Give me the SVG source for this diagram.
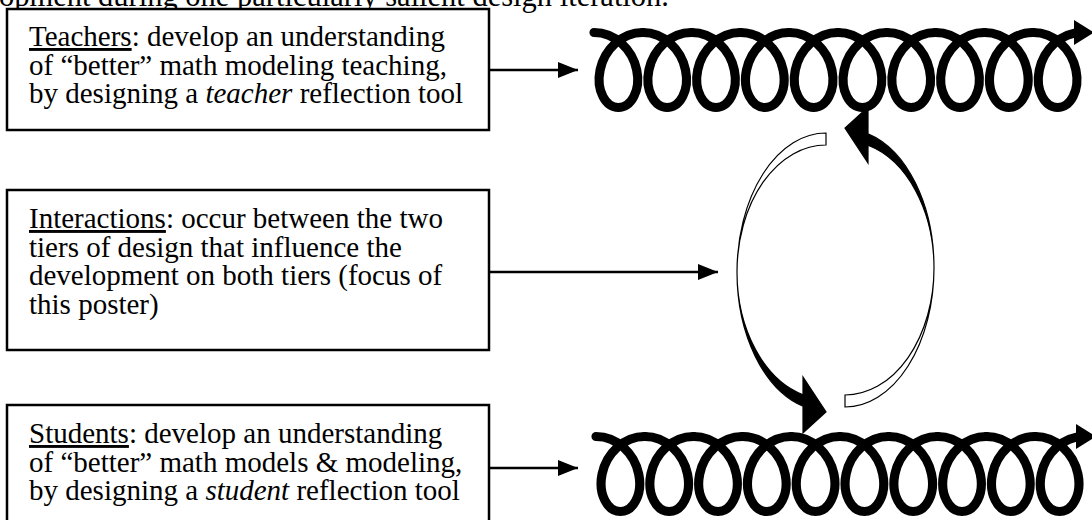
<svg xmlns="http://www.w3.org/2000/svg" xmlns:xlink="http://www.w3.org/1999/xlink" width="1092" height="520" viewBox="0 0 1092 520">
<style>
.box{fill:#fff;stroke:#000;stroke-width:2.5}
.t{font-family:"Liberation Serif","Times New Roman",serif;font-size:29px;fill:#000}
.u{text-decoration:underline}
.i{font-style:italic}
.ln{stroke:#000;stroke-width:2.5;fill:none}
.coil{fill:none;stroke:#000;stroke-width:9;stroke-linecap:round;stroke-linejoin:round}
.hol{fill:#fff;stroke:#000;stroke-width:1.2}
.sol{fill:#000;stroke:#000;stroke-width:1.2;stroke-linejoin:miter}
</style>
<defs>
<marker id="ah" viewBox="0 0 20 16" refX="20" refY="8" markerWidth="20" markerHeight="16" markerUnits="userSpaceOnUse" orient="auto">
<path d="M0,0 L20,8 L0,16 Z" fill="#000"/>
</marker>
<path id="per" d="M-24,-37.5 C-14.15,-37.5 -4.34,-33.46 3.21,-26.52 C10.76,-19.58 16,-9.82 18,0 C20,9.82 18.76,19.58 15.21,26.52 C11.66,33.46 5.850,37.5 0,37.5 C-5.85,37.5 -11.66,33.46 -15.21,26.52 C-18.76,19.58 -20,9.82 -18,0 C-16,-9.82 -10.76,-19.58 -3.21,-26.52 C4.34,-33.46 14.15,-37.5 24,-37.5"/>
<g id="coil">
<use xlink:href="#per" href="#per" x="24"/>
<use xlink:href="#per" href="#per" x="72"/>
<use xlink:href="#per" href="#per" x="120"/>
<use xlink:href="#per" href="#per" x="168"/>
<use xlink:href="#per" href="#per" x="216"/>
<use xlink:href="#per" href="#per" x="264"/>
<use xlink:href="#per" href="#per" x="312"/>
<use xlink:href="#per" href="#per" x="360"/>
<use xlink:href="#per" href="#per" x="408"/>
<use xlink:href="#per" href="#per" x="456"/>
</g>
<g id="curv">
<path class="hol" d="M826,133 A89,139 0 0,0 737,272 A89,127 0 0,1 826,145 Z"/>
<path class="sol" d="M737,272 A89,139 0 0,0 803,406.3 L803,433 L826,412 L803,377 L803,394.7 A89,127 0 0,1 737,272 Z"/>
</g>
</defs>
<rect width="1092" height="520" fill="#fff"/>

<g id="caption">
<text class="t" x="-1" y="6" style="font-size:30.5px">opment during one particularly salient design iteration.</text>
</g>

<g id="teachers">
<rect class="box" x="7" y="9" width="482" height="121"/>
<text class="t"><tspan x="29" y="46"><tspan class="u">Teachers</tspan>: develop an understanding</tspan><tspan x="29" y="74.5">of “better” math modeling teaching,</tspan><tspan x="29" y="103">by designing a <tspan class="i">teacher</tspan> reflection tool</tspan></text>
</g>

<g id="interactions">
<rect class="box" x="7" y="190" width="482" height="160"/>
<text class="t"><tspan x="29" y="228"><tspan class="u">Interactions</tspan>: occur between the two</tspan><tspan x="29" y="256.5">tiers of design that influence the</tspan><tspan x="29" y="285">development on both tiers (focus of</tspan><tspan x="29" y="313.5">this poster)</tspan></text>
</g>

<g id="students">
<rect class="box" x="7" y="405" width="482" height="126"/>
<text class="t"><tspan x="29" y="443"><tspan class="u">Students</tspan>: develop an understanding</tspan><tspan x="29" y="471.5">of “better” math models &amp; modeling,</tspan><tspan x="29" y="500">by designing a <tspan class="i">student</tspan> reflection tool</tspan></text>
</g>

<g id="teacher-tier">
<g class="coil" transform="translate(594,70) scale(1.0167,1)"><use xlink:href="#coil" href="#coil"/></g>
<path d="M1074,20 L1094,32.5 L1074,45 Z" fill="#000"/>
</g>

<g id="student-tier">
<g class="coil" transform="translate(596,474) scale(1.0167,1)"><use xlink:href="#coil" href="#coil"/></g>
<path d="M1076,424 L1096,436.5 L1076,449 Z" fill="#000"/>
</g>

<g id="interaction-cycle">
<use xlink:href="#curv" href="#curv"/>
<use xlink:href="#curv" href="#curv" transform="rotate(180 835.5 270)"/>
</g>

<g id="connectors">
<line class="ln" x1="489" y1="70" x2="578" y2="70" marker-end="url(#ah)"/>
<line class="ln" x1="489" y1="272" x2="718" y2="272" marker-end="url(#ah)"/>
<line class="ln" x1="489" y1="468" x2="578" y2="468" marker-end="url(#ah)"/>
</g>
</svg>
